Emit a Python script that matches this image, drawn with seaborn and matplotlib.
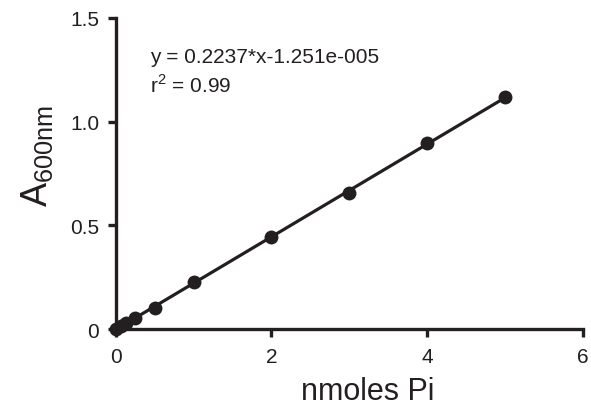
import matplotlib.pyplot as plt
import pandas as pd
import seaborn as sns

# standard curve: nmoles Pi vs absorbance at 600 nm
nmoles_pi = [0, 0.0625, 0.125, 0.25, 0.5, 1, 2, 3, 4, 5]
a600 = [0.0, 0.014, 0.029, 0.053, 0.101, 0.227, 0.444, 0.656, 0.895, 1.119]
fit_text = ["y = 0.2237*x-1.251e-005", "r$^{\\mathregular{2}}$ = 0.99"]


def main() -> None:
    sns.set_theme(style="ticks")
    plt.rcParams["font.family"] = ["Liberation Sans", "DejaVu Sans"]
    ink = "#231f20"

    df = pd.DataFrame({"x": nmoles_pi, "y": a600})

    fig = plt.figure(figsize=(5.91, 4.10), dpi=100)
    ax = fig.add_axes([0.196, 0.195, 0.79, 0.759])

    sns.regplot(
        data=df,
        x="x",
        y="y",
        ci=None,
        truncate=True,
        color=ink,
        scatter_kws={"s": 100, "alpha": 1, "linewidths": 0, "zorder": 3, "clip_on": False},
        line_kws={"lw": 2.3},
        ax=ax,
    )

    ax.set_xlim(0, 6)
    ax.set_ylim(0, 1.5)
    ax.set_xticks([0, 2, 4, 6])
    ax.set_yticks([0, 0.5, 1.0, 1.5])
    ax.set_yticklabels(["0", "0.5", "1.0", "1.5"])
    sns.despine(ax=ax)
    for side in ("left", "bottom"):
        ax.spines[side].set_linewidth(2.4)
        ax.spines[side].set_color(ink)
    ax.tick_params(width=2.4, length=6, color=ink, labelsize=15, labelcolor=ink)
    ax.tick_params(axis="x", pad=7)
    ax.tick_params(axis="y", pad=6)

    ax.set_xlabel("nmoles Pi", fontsize=22, color=ink)
    ax.xaxis.set_label_coords(0.54, -0.15)
    ax.set_ylabel("A$_{\\mathregular{600nm}}$", fontsize=26, color=ink)
    ax.yaxis.set_label_coords(-0.13, 0.56)

    ax.text(0.073, 0.859, fit_text[0], transform=ax.transAxes, fontsize=15,
            color=ink, va="baseline")
    ax.text(0.073, 0.762, fit_text[1], transform=ax.transAxes, fontsize=15,
            color=ink, va="baseline")

    fig.savefig("out.png", dpi=100)
    plt.close(fig)


if __name__ == "__main__":
    main()
